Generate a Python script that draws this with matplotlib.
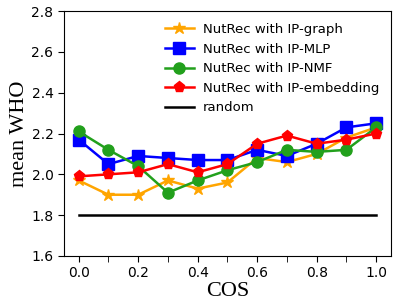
import numpy as np
import matplotlib
matplotlib.use("Agg")
import matplotlib.pyplot as plt

cos = [0.0, 0.1, 0.2, 0.3, 0.4, 0.5, 0.6, 0.7, 0.8, 0.9, 1.0]
ip_graph = [1.97, 1.90, 1.90, 1.97, 1.93, 1.96, 2.08, 2.06, 2.10, 2.18, 2.23]
ip_mlp = [2.17, 2.05, 2.09, 2.08, 2.07, 2.07, 2.12, 2.09, 2.15, 2.23, 2.25]
ip_nmf = [2.21, 2.12, 2.04, 1.91, 1.97, 2.02, 2.06, 2.12, 2.11, 2.12, 2.23]
ip_embedding = [1.99, 2.00, 2.01, 2.05, 2.01, 2.05, 2.15, 2.19, 2.15, 2.17, 2.20]
random_level = [1.80] * len(cos)

fig = plt.figure(figsize=(3.99, 3.08), dpi=100)
ax = fig.add_axes([0.160, 0.169, 0.820, 0.795])

ax.plot(cos, ip_graph, color="orange", marker="*", markersize=9, lw=1.8, label="NutRec with IP-graph")
ax.plot(cos, ip_mlp, color="blue", marker="s", markersize=8, lw=1.8, label="NutRec with IP-MLP")
ax.plot(cos, ip_nmf, color="#22a01c", marker="o", markersize=8, lw=1.8, label="NutRec with IP-NMF")
ax.plot(cos, ip_embedding, color="red", marker="p", markersize=8, lw=1.8, label="NutRec with IP-embedding")
ax.plot(cos, random_level, color="black", lw=1.8, label="random")

ax.set_xlim(-0.05, 1.05)
ax.set_ylim(1.6, 2.8)
ax.set_xticks(np.arange(0, 1.01, 0.2))
ax.set_xticks(np.arange(0, 1.01, 0.1), minor=True)
ax.set_yticks(np.arange(1.6, 2.81, 0.2))
ax.tick_params(which="both", labelsize=10, length=4)
ax.tick_params(which="minor", length=4)

ax.set_xlabel("COS", family="Liberation Serif", fontsize=16, labelpad=1)
ax.set_ylabel("mean WHO", family="Liberation Serif", fontsize=16, labelpad=2)

ax.legend(loc="upper right", frameon=False, fontsize=9.5, handlelength=2.2,
          handletextpad=0.7, borderaxespad=0.5, labelspacing=0.5)

fig.savefig("out.png", dpi=100)
